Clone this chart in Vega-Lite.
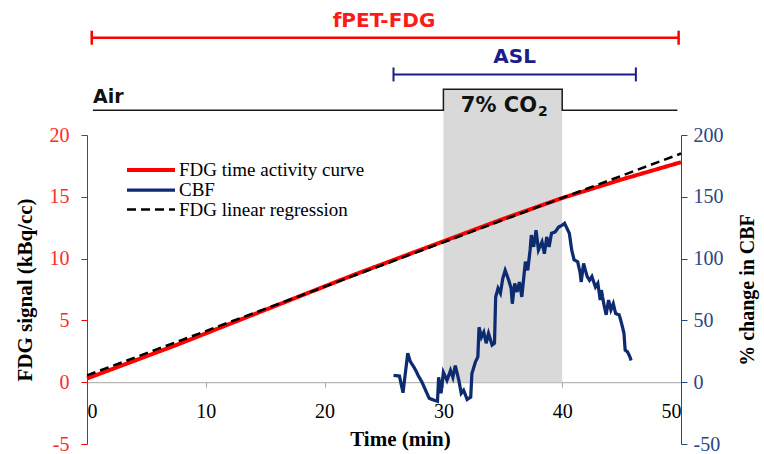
{
  "$schema": "https://vega.github.io/schema/vega-lite/v6.json",
  "width": 594,
  "height": 309,
  "autosize": {"type": "none"},
  "padding": {"left": 87, "top": 135, "right": 83, "bottom": 10},
  "background": "white",
  "config": {
    "view": {"stroke": null},
    "font": "Liberation Serif",
    "legend": {
      "orient": "none",
      "legendX": 54,
      "legendY": 25,
      "symbolType": "M-3,0H3",
      "symbolSize": 256,
      "labelFont": "Liberation Serif",
      "labelFontSize": 19,
      "labelColor": "black",
      "labelOffset": 18,
      "labelLimit": 0,
      "rowPadding": 0,
      "padding": 0
    }
  },
  "datasets": {
    "fdg": [
      {"t": 0, "v": 0.3, "series": "FDG time activity curve"},
      {"t": 2.5, "v": 1.2, "series": "FDG time activity curve"},
      {"t": 5, "v": 2.1, "series": "FDG time activity curve"},
      {"t": 7.5, "v": 3.0, "series": "FDG time activity curve"},
      {"t": 10, "v": 3.95, "series": "FDG time activity curve"},
      {"t": 12.5, "v": 4.9, "series": "FDG time activity curve"},
      {"t": 15, "v": 5.85, "series": "FDG time activity curve"},
      {"t": 17.5, "v": 6.8, "series": "FDG time activity curve"},
      {"t": 20, "v": 7.75, "series": "FDG time activity curve"},
      {"t": 22.5, "v": 8.7, "series": "FDG time activity curve"},
      {"t": 25, "v": 9.6, "series": "FDG time activity curve"},
      {"t": 27.5, "v": 10.5, "series": "FDG time activity curve"},
      {"t": 30, "v": 11.4, "series": "FDG time activity curve"},
      {"t": 32.5, "v": 12.3, "series": "FDG time activity curve"},
      {"t": 35, "v": 13.2, "series": "FDG time activity curve"},
      {"t": 37.5, "v": 14.05, "series": "FDG time activity curve"},
      {"t": 40, "v": 14.9, "series": "FDG time activity curve"},
      {"t": 42.5, "v": 15.65, "series": "FDG time activity curve"},
      {"t": 45, "v": 16.4, "series": "FDG time activity curve"},
      {"t": 47.5, "v": 17.1, "series": "FDG time activity curve"},
      {"t": 50, "v": 17.8, "series": "FDG time activity curve"}
    ],
    "reg": [
      {"t": 0, "v": 0.55, "series": "FDG linear regression"},
      {"t": 50, "v": 18.5, "series": "FDG linear regression"}
    ],
    "cbf": [
      {"t": 25.8, "cbf": 5.5, "series": "CBF"}, {"t": 26.3, "cbf": 5, "series": "CBF"}, {"t": 26.6, "cbf": -8.5, "series": "CBF"}, {"t": 27.0, "cbf": 23.5, "series": "CBF"},
      {"t": 27.2, "cbf": 17, "series": "CBF"}, {"t": 27.5, "cbf": 12.5, "series": "CBF"}, {"t": 27.7, "cbf": 9, "series": "CBF"}, {"t": 27.9, "cbf": 5, "series": "CBF"},
      {"t": 28.2, "cbf": 0, "series": "CBF"}, {"t": 28.5, "cbf": -6.5, "series": "CBF"}, {"t": 28.8, "cbf": -13, "series": "CBF"}, {"t": 29.2, "cbf": -14.5, "series": "CBF"},
      {"t": 29.5, "cbf": -15.5, "series": "CBF"}, {"t": 29.6, "cbf": 4, "series": "CBF"}, {"t": 29.8, "cbf": -9, "series": "CBF"}, {"t": 30.0, "cbf": 8, "series": "CBF"},
      {"t": 30.3, "cbf": 1.5, "series": "CBF"}, {"t": 30.6, "cbf": 9.5, "series": "CBF"}, {"t": 30.8, "cbf": 4, "series": "CBF"}, {"t": 31.0, "cbf": 13.5, "series": "CBF"},
      {"t": 31.3, "cbf": 1.5, "series": "CBF"}, {"t": 31.5, "cbf": -9, "series": "CBF"}, {"t": 31.7, "cbf": -6.5, "series": "CBF"}, {"t": 32.0, "cbf": -14, "series": "CBF"},
      {"t": 32.3, "cbf": -12, "series": "CBF"}, {"t": 32.4, "cbf": 7, "series": "CBF"}, {"t": 32.7, "cbf": 16.5, "series": "CBF"}, {"t": 32.9, "cbf": 20.5, "series": "CBF"},
      {"t": 33.0, "cbf": 44.5, "series": "CBF"}, {"t": 33.2, "cbf": 36.5, "series": "CBF"}, {"t": 33.4, "cbf": 40.5, "series": "CBF"}, {"t": 33.6, "cbf": 31.5, "series": "CBF"},
      {"t": 33.8, "cbf": 39.5, "series": "CBF"}, {"t": 34.1, "cbf": 30, "series": "CBF"}, {"t": 34.3, "cbf": 31.5, "series": "CBF"}, {"t": 34.4, "cbf": 69, "series": "CBF"},
      {"t": 34.6, "cbf": 76, "series": "CBF"}, {"t": 34.8, "cbf": 72, "series": "CBF"}, {"t": 35.0, "cbf": 84, "series": "CBF"}, {"t": 35.2, "cbf": 90.5, "series": "CBF"},
      {"t": 35.5, "cbf": 82.5, "series": "CBF"}, {"t": 35.7, "cbf": 76, "series": "CBF"}, {"t": 35.8, "cbf": 63.5, "series": "CBF"}, {"t": 36.0, "cbf": 80, "series": "CBF"},
      {"t": 36.2, "cbf": 73, "series": "CBF"}, {"t": 36.4, "cbf": 81, "series": "CBF"}, {"t": 36.6, "cbf": 69, "series": "CBF"}, {"t": 36.9, "cbf": 97.5, "series": "CBF"},
      {"t": 37.1, "cbf": 90.5, "series": "CBF"}, {"t": 37.3, "cbf": 107, "series": "CBF"}, {"t": 37.4, "cbf": 119, "series": "CBF"}, {"t": 37.6, "cbf": 109.5, "series": "CBF"},
      {"t": 37.8, "cbf": 123, "series": "CBF"}, {"t": 38.0, "cbf": 107, "series": "CBF"}, {"t": 38.3, "cbf": 113.5, "series": "CBF"}, {"t": 38.5, "cbf": 104, "series": "CBF"},
      {"t": 38.7, "cbf": 117.5, "series": "CBF"}, {"t": 38.9, "cbf": 109.5, "series": "CBF"}, {"t": 39.1, "cbf": 120.5, "series": "CBF"}, {"t": 39.4, "cbf": 121.5, "series": "CBF"},
      {"t": 39.7, "cbf": 125.5, "series": "CBF"}, {"t": 40.0, "cbf": 127, "series": "CBF"}, {"t": 40.2, "cbf": 128.5, "series": "CBF"}, {"t": 40.4, "cbf": 124.5, "series": "CBF"},
      {"t": 40.6, "cbf": 120.5, "series": "CBF"}, {"t": 40.8, "cbf": 107, "series": "CBF"}, {"t": 41.0, "cbf": 99, "series": "CBF"}, {"t": 41.3, "cbf": 97.5, "series": "CBF"},
      {"t": 41.5, "cbf": 89, "series": "CBF"}, {"t": 41.6, "cbf": 81, "series": "CBF"}, {"t": 41.8, "cbf": 96, "series": "CBF"}, {"t": 42.1, "cbf": 85.5, "series": "CBF"},
      {"t": 42.3, "cbf": 82.5, "series": "CBF"}, {"t": 42.5, "cbf": 85.5, "series": "CBF"}, {"t": 42.8, "cbf": 77, "series": "CBF"}, {"t": 43.0, "cbf": 80, "series": "CBF"},
      {"t": 43.2, "cbf": 66.5, "series": "CBF"}, {"t": 43.3, "cbf": 74.5, "series": "CBF"}, {"t": 43.5, "cbf": 63.5, "series": "CBF"}, {"t": 43.7, "cbf": 54.5, "series": "CBF"},
      {"t": 43.9, "cbf": 66.5, "series": "CBF"}, {"t": 44.1, "cbf": 58.5, "series": "CBF"}, {"t": 44.3, "cbf": 63.5, "series": "CBF"}, {"t": 44.5, "cbf": 55.5, "series": "CBF"},
      {"t": 44.8, "cbf": 54.5, "series": "CBF"}, {"t": 45.0, "cbf": 47.5, "series": "CBF"}, {"t": 45.2, "cbf": 39.5, "series": "CBF"}, {"t": 45.3, "cbf": 26, "series": "CBF"},
      {"t": 45.5, "cbf": 24.5, "series": "CBF"}, {"t": 45.7, "cbf": 20.5, "series": "CBF"}, {"t": 45.8, "cbf": 17.5, "series": "CBF"}
    ],
    "co2": [{"t": 30, "t2": 40, "v": 23.7, "v2": 0}],
    "gas": [
      {"t": 0.5, "v": 22.0},
      {"t": 30, "v": 23.7},
      {"t": 40, "v": 22.0},
      {"t": 49.7, "v": 22.0}
    ],
    "fpet": [{"t": 0.4, "t2": 49.8, "v": 27.87}],
    "fpetEnds": [{"t": 0.4, "v": 27.87}, {"t": 49.8, "v": 27.87}],
    "asl": [{"t": 25.8, "t2": 46.2, "v": 24.9}],
    "aslEnds": [{"t": 25.8, "v": 24.9}, {"t": 46.2, "v": 24.9}],
    "fpetLabel": [{"t": 25, "v": 28.76, "text": "fPET-FDG"}],
    "aslLabel": [{"t": 36, "v": 25.8, "text": "ASL"}],
    "airLabel": [{"t": 0.5, "v": 22.56, "text": "Air"}],
    "co2Label": [{"t": 37.88, "v": 21.9, "text": "7% CO"}],
    "co2Sub": [{"t": 37.97, "v": 21.5, "text": "2"}]
  },
  "encoding": {
    "x": {
      "field": "t",
      "type": "quantitative",
      "scale": {"domain": [0, 50], "nice": false, "zero": false},
      "axis": {
        "title": "Time (min)",
        "values": [0, 10, 20, 30, 40, 50],
        "offset": -61.8,
        "domainColor": "#a6a6a6",
        "tickColor": "#a6a6a6",
        "tickSize": 5,
        "labelFont": "Liberation Serif",
        "labelFontSize": 20,
        "labelColor": "black",
        "labelPadding": 14,
        "titleFont": "Liberation Serif",
        "titleFontSize": 21,
        "titleFontWeight": "bold",
        "titleColor": "black",
        "titlePadding": 7,
        "titleX": 313,
        "grid": false
      }
    }
  },
  "layer": [
    {
      "encoding": {
        "y": {
          "field": "v",
          "type": "quantitative",
          "scale": {"domain": [-5, 20], "nice": false, "zero": false},
          "axis": {
            "orient": "left",
            "title": "FDG signal (kBq/cc)",
            "values": [-5, 0, 5, 10, 15, 20],
            "labelExpr": "'' + datum.value",
            "domainColor": "#ff0000",
            "tickColor": "#ff0000",
            "tickSize": 6,
            "labelFont": "Liberation Serif",
            "labelFontSize": 20,
            "labelColor": "#ff2a2a",
            "labelPadding": 12,
            "titleFont": "Liberation Serif",
            "titleFontSize": 21,
            "titleFontWeight": "bold",
            "titleColor": "black",
            "titlePadding": 14,
            "grid": false
          }
        }
      },
      "layer": [
        {
          "data": {"name": "co2"},
          "mark": {"type": "rect", "color": "#d9d9d9"},
          "encoding": {"x2": {"field": "t2"}, "y2": {"field": "v2"}}
        },
        {
          "data": {"name": "gas"},
          "mark": {"type": "line", "color": "#1a1a1a", "strokeWidth": 1.5, "interpolate": "step-after"}
        },
        {
          "data": {"name": "fpet"},
          "mark": {"type": "rule", "color": "#ff0000", "strokeWidth": 2.5},
          "encoding": {"x2": {"field": "t2"}}
        },
        {
          "data": {"name": "fpetEnds"},
          "mark": {"type": "point", "shape": "M0,-1L0,1", "size": 196, "filled": false, "stroke": "#ff0000", "strokeWidth": 2.5, "opacity": 1}
        },
        {
          "data": {"name": "asl"},
          "mark": {"type": "rule", "color": "#1c1c8a", "strokeWidth": 2},
          "encoding": {"x2": {"field": "t2"}}
        },
        {
          "data": {"name": "aslEnds"},
          "mark": {"type": "point", "shape": "M0,-1L0,1", "size": 196, "filled": false, "stroke": "#1c1c8a", "strokeWidth": 2, "opacity": 1}
        },
        {
          "data": {"name": "fpetLabel"},
          "mark": {"type": "text", "font": "DejaVu Sans", "fontWeight": "bold", "fontSize": 20, "baseline": "alphabetic", "align": "center", "color": "#ff1a1a"},
          "encoding": {"text": {"field": "text"}}
        },
        {
          "data": {"name": "aslLabel"},
          "mark": {"type": "text", "font": "DejaVu Sans", "fontWeight": "bold", "fontSize": 20, "baseline": "alphabetic", "align": "center", "color": "#1c1c8a"},
          "encoding": {"text": {"field": "text"}}
        },
        {
          "data": {"name": "airLabel"},
          "mark": {"type": "text", "font": "DejaVu Sans", "fontWeight": "bold", "fontSize": 19, "baseline": "alphabetic", "align": "left", "color": "#111111"},
          "encoding": {"text": {"field": "text"}}
        },
        {
          "data": {"name": "co2Label"},
          "mark": {"type": "text", "font": "DejaVu Sans", "fontWeight": "bold", "fontSize": 21, "baseline": "alphabetic", "align": "right", "color": "#111111"},
          "encoding": {"text": {"field": "text"}}
        },
        {
          "data": {"name": "co2Sub"},
          "mark": {"type": "text", "font": "DejaVu Sans", "fontWeight": "bold", "fontSize": 14, "baseline": "alphabetic", "align": "left", "color": "#111111"},
          "encoding": {"text": {"field": "text"}}
        },
        {
          "data": {"name": "fdg"},
          "mark": {"type": "line"},
          "encoding": {
            "color": {"field": "series", "type": "nominal", "title": null, "scale": {"domain": ["FDG time activity curve", "CBF", "FDG linear regression"], "range": ["#ff0000", "#0d2b70", "#000000"]}},
            "strokeDash": {"field": "series", "type": "nominal", "title": null, "scale": {"domain": ["FDG time activity curve", "CBF", "FDG linear regression"], "range": [[1, 0], [1, 0], [9, 5]]}},
            "strokeWidth": {"field": "series", "type": "nominal", "title": null, "scale": {"domain": ["FDG time activity curve", "CBF", "FDG linear regression"], "range": [4, 2.5, 1.5]}}
          }
        },
        {
          "data": {"name": "reg"},
          "mark": {"type": "line"},
          "encoding": {
            "color": {"field": "series", "type": "nominal", "title": null, "scale": {"domain": ["FDG time activity curve", "CBF", "FDG linear regression"], "range": ["#ff0000", "#0d2b70", "#000000"]}},
            "strokeDash": {"field": "series", "type": "nominal", "title": null, "scale": {"domain": ["FDG time activity curve", "CBF", "FDG linear regression"], "range": [[1, 0], [1, 0], [9, 5]]}},
            "strokeWidth": {"field": "series", "type": "nominal", "title": null, "scale": {"domain": ["FDG time activity curve", "CBF", "FDG linear regression"], "range": [4, 2.5, 1.5]}}
          }
        }
      ]
    },
    {
      "data": {"name": "cbf"},
      "mark": {"type": "line"},
      "encoding": {
        "y": {
          "field": "cbf",
          "type": "quantitative",
          "scale": {"domain": [-50, 200], "nice": false, "zero": false},
          "axis": {
            "orient": "right",
            "title": "% change in CBF",
            "titleAngle": 270,
            "values": [-50, 0, 50, 100, 150, 200],
            "labelExpr": "'' + datum.value",
            "domainColor": "#2a4585",
            "tickColor": "#2a4585",
            "tickSize": 6,
            "labelFont": "Liberation Serif",
            "labelFontSize": 20,
            "labelColor": "#2a4585",
            "labelPadding": 6,
            "titleFont": "Liberation Serif",
            "titleFontSize": 20,
            "titleFontWeight": "bold",
            "titleColor": "black",
            "titlePadding": 34,
            "grid": false
          }
        },
        "color": {"field": "series", "type": "nominal", "title": null, "scale": {"domain": ["FDG time activity curve", "CBF", "FDG linear regression"], "range": ["#ff0000", "#0d2b70", "#000000"]}},
        "strokeDash": {"field": "series", "type": "nominal", "title": null, "scale": {"domain": ["FDG time activity curve", "CBF", "FDG linear regression"], "range": [[1, 0], [1, 0], [9, 5]]}},
        "strokeWidth": {"field": "series", "type": "nominal", "title": null, "scale": {"domain": ["FDG time activity curve", "CBF", "FDG linear regression"], "range": [4, 2.5, 1.5]}}
      }
    }
  ],
  "resolve": {"scale": {"y": "independent"}}
}
